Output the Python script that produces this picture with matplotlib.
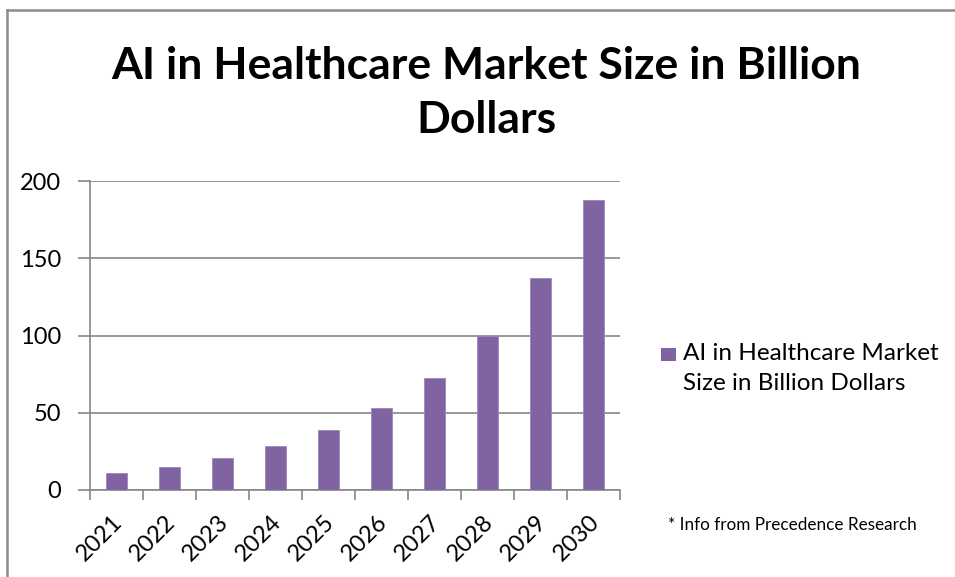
import matplotlib
matplotlib.use("Agg")
import matplotlib.pyplot as plt
import matplotlib.transforms as mtransforms
from matplotlib.patches import Rectangle
import numpy as np

years = ["2021", "2022", "2023", "2024", "2025", "2026", "2027", "2028", "2029", "2030"]
values = [10.8, 15.1, 20.5, 28.2, 38.6, 52.8, 72.4, 99.8, 136.9, 188.0]
series_label = "AI in Healthcare Market\nSize in Billion Dollars"
title = "AI in Healthcare Market Size in Billion\nDollars"
y_ticks = [0, 50, 100, 150, 200]
footnote = "* Info from Precedence Research"

plt.rcParams['font.family'] = ['Lato', 'DejaVu Sans']
W, H = 955, 577
fig = plt.figure(figsize=(W/100, H/100), dpi=100)
ax = fig.add_axes([90/W, 1-490/H, 530/W, 309/H])

grey = "#868686"
bar_color = "#8064A2"
x = np.arange(len(years))
ax.bar(x, values, width=0.4, color=bar_color, edgecolor="#9C86B8", linewidth=0.6,
       label=series_label, zorder=3)
ax.set_xlim(-0.5, len(years)-0.5)
ax.set_ylim(0, 200)
ax.set_yticks(y_ticks)
ax.set_yticklabels([str(v) for v in y_ticks], fontsize=17)
ax.yaxis.grid(True, color=grey, linewidth=1.2, zorder=0)
ax.set_axisbelow(True)

ax.set_xticks(x)
ax.set_xticklabels(years, rotation=45, ha='right', rotation_mode='anchor', fontsize=17)
ax.tick_params(axis='x', length=0, pad=4)
ax.set_xticks(np.arange(-0.5, len(years)), minor=True)
ax.tick_params(axis='x', which='minor', length=7, color=grey, width=1.2, direction='out')
ax.tick_params(axis='y', length=9, color=grey, width=1.2, direction='out', pad=12)
offset = mtransforms.ScaledTranslation(-5/100, -16/100, fig.dpi_scale_trans)
for lbl in ax.get_xticklabels():
    lbl.set_transform(lbl.get_transform() + offset)

for s in ['top', 'right']:
    ax.spines[s].set_visible(False)
for s in ['left', 'bottom']:
    ax.spines[s].set_color(grey)
    ax.spines[s].set_linewidth(1.2)

fig.text(486/W, 1-93/H, title, ha='center', va='center', fontsize=32,
         fontweight='bold', linespacing=1.4)

# legend (handle aligned with first text line, as in the reference)
fig.add_artist(Rectangle((661/W, 1-361/H), 15/W, 13/H, facecolor=bar_color,
                         edgecolor='none', transform=fig.transFigure))
fig.text(683/W, 1-343/H, series_label, ha='left', va='top', fontsize=17.5,
         linespacing=1.5)

fig.text(668/W, 1-525/H, footnote, ha='left', va='center', fontsize=12.3)

# chart border lines (left and top)
fig.add_artist(plt.Line2D([7/W, 7/W], [0, 1-10/H], color="#8c8c8c", linewidth=1.8,
                          transform=fig.transFigure))
fig.add_artist(plt.Line2D([7/W, 1], [1-10/H, 1-10/H], color="#8c8c8c", linewidth=1.8,
                          transform=fig.transFigure))

fig.savefig("out.png", dpi=100)
